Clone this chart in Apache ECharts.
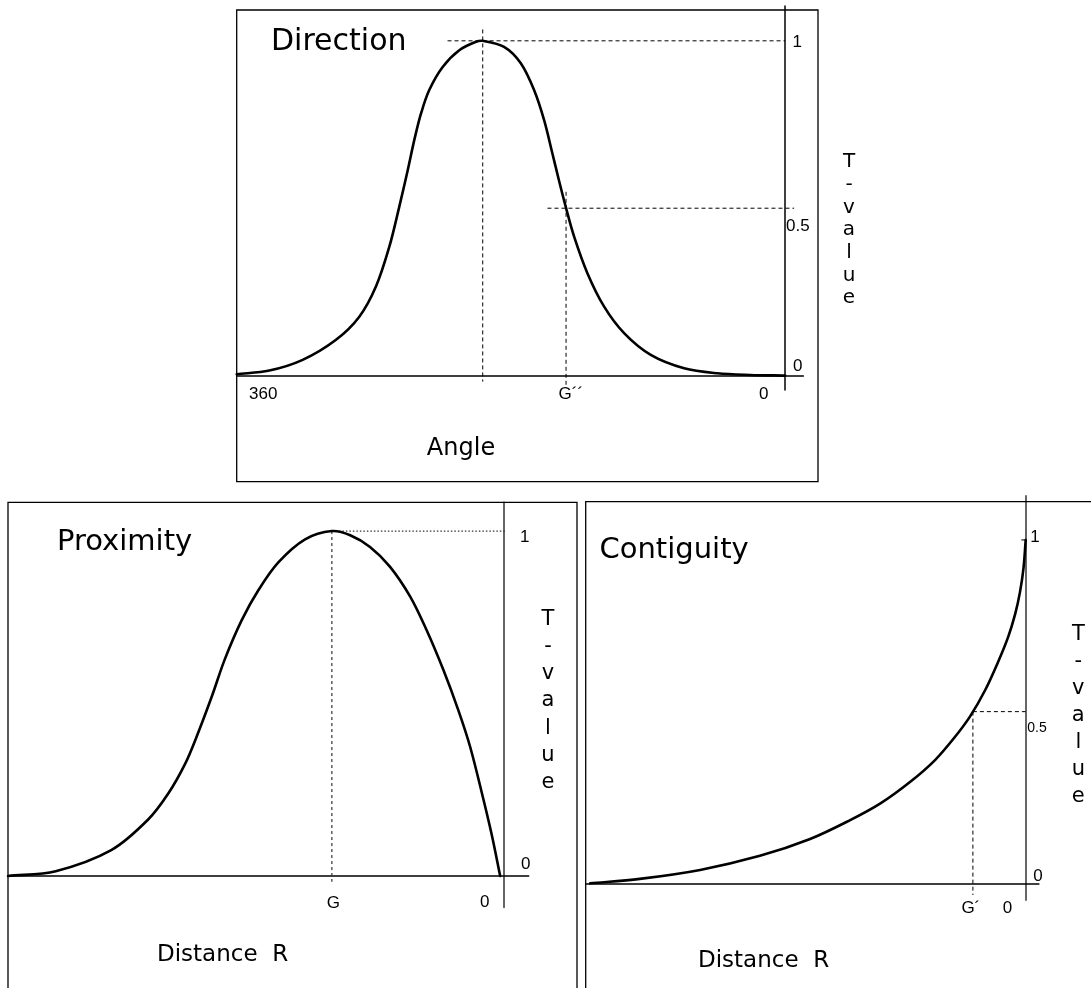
<!DOCTYPE html>
<html>
<head>
<meta charset="utf-8">
<script src="https://cdn.jsdelivr.net/npm/echarts@6/dist/echarts.min.js"></script>
<style>
  html, body { margin: 0; padding: 0; background: #fff; }
  #chart { width: 1091px; height: 988px; }
</style>
</head>
<body>
<div id="chart"></div>
<script>
// ---------- Direction: T-value against angle (axis runs 360 -> 0) ----------
const directionAngle = [360, 338.6, 316.7, 294.8, 279.5, 268.6, 259.8, 253.3, 247.7, 243.4, 239.0, 233.6,
  224.8, 213.9, 202.9, 198.5, 184.5, 173.5, 164.8, 158.2, 152.8, 148.4, 144.0, 138.5, 129.8, 118.8, 105.7,
  88.2, 66.3, 44.5, 23.0, 0];
const directionT = [0.004, 0.015, 0.047, 0.107, 0.176, 0.266, 0.385, 0.504, 0.614, 0.704, 0.783, 0.853,
  0.922, 0.972, 0.997, 1.0, 0.982, 0.933, 0.853, 0.763, 0.664, 0.582, 0.504, 0.415, 0.306, 0.206, 0.127,
  0.062, 0.022, 0.007, 0.002, 0];
const directionPeakAngle = 198.5;
const directionHalfAngle = 143.8;        // G´´
const directionXTickLabels = ['360', 'G\u00b4\u00b4', '0'];
const directionXTickValues = [360, 143.8, 0];
const directionYTickLabels = ['1', '0.5', '0'];
const directionYTickValues = [1, 0.5, 0];

// ---------- Proximity: T-value against distance R (axis runs 100 -> 0) ----------
const proximityR = [100, 90.4, 79.2, 71.8, 67.7, 64.3, 62.0, 58.9, 56.3, 52.9, 49.5, 45.5, 40.1,
  34.7, 31.0, 27.0, 23.0, 18.9, 15.6, 12.2, 9.2, 6.8, 4.2, 2.4, 0.75];
const proximityT = [0, 0.014, 0.075, 0.163, 0.239, 0.325, 0.403, 0.521, 0.628, 0.741, 0.829, 0.909, 0.976,
  1.0, 0.988, 0.954, 0.897, 0.810, 0.713, 0.597, 0.481, 0.374, 0.226, 0.116, 0];
const proximityPeakR = 34.7;             // G
const proximityXTickLabels = ['G', '0'];
const proximityXTickValues = [34.7, 0];
const proximityYTickLabels = ['1', '0'];
const proximityYTickValues = [1, 0];

// ---------- Contiguity: T-value against distance R (axis runs 100 -> 0) ----------
const contiguityR = [99.0, 87.7, 74.0, 60.4, 49.0, 39.9, 33.1, 26.3, 20.6, 16.1, 12.6, 9.2, 6.3, 4.0,
  2.4, 1.3, 0.5, 0];
const contiguityT = [0, 0.013, 0.039, 0.080, 0.129, 0.184, 0.232, 0.295, 0.359, 0.426, 0.487, 0.563,
  0.644, 0.717, 0.784, 0.848, 0.918, 1.0];
const contiguityHalfR = 12.0;            // G´
const contiguityXTickLabels = ['G\u00b4', '0'];
const contiguityXTickValues = [12.0, 0];
const contiguityYTickLabels = ['1', '0.5', '0'];
const contiguityYTickValues = [1, 0.5, 0];

// ---------- helpers ----------
const TITLE_FONT = '"DejaVu Sans", sans-serif';
const TICK_FONT = '"Liberation Sans", Arial, sans-serif';

function zip(xs, ys) { return xs.map((x, i) => [x, ys[i]]); }

// cubic Hermite spline through pixel points, tangents from chord-length central differences
function splinePath(p) {
  const n = p.length;
  const d = [];
  for (let i = 0; i < n - 1; i++) {
    d.push(Math.hypot(p[i + 1][0] - p[i][0], p[i + 1][1] - p[i][1]) || 1e-6);
  }
  const t = p.map((pt, i) => {
    if (i === 0) return [(p[1][0] - p[0][0]) / d[0], (p[1][1] - p[0][1]) / d[0]];
    if (i === n - 1) return [(p[n - 1][0] - p[n - 2][0]) / d[n - 2], (p[n - 1][1] - p[n - 2][1]) / d[n - 2]];
    const s = d[i - 1] + d[i];
    return [(p[i + 1][0] - p[i - 1][0]) / s, (p[i + 1][1] - p[i - 1][1]) / s];
  });
  let path = 'M' + p[0][0] + ' ' + p[0][1];
  for (let i = 0; i < n - 1; i++) {
    const h = d[i] / 3;
    path += ' C' + (p[i][0] + t[i][0] * h) + ' ' + (p[i][1] + t[i][1] * h) + ' ' +
      (p[i + 1][0] - t[i + 1][0] * h) + ' ' + (p[i + 1][1] - t[i + 1][1] * h) + ' ' +
      p[i + 1][0] + ' ' + p[i + 1][1];
  }
  return path;
}

function curve(g, xs, ys) {
  return {
    type: 'custom', xAxisIndex: g, yAxisIndex: g, silent: true, z: 4, clip: false,
    data: zip(xs, ys), encode: { x: 0, y: 1 },
    renderItem: function (params, api) {
      if (params.dataIndex !== 0) return null;
      const pts = xs.map((x, i) => api.coord([x, ys[i]]));
      return {
        type: 'path', shape: { pathData: splinePath(pts) },
        style: { fill: 'none', stroke: '#000', lineWidth: 2.6, lineCap: 'round', lineJoin: 'round' }
      };
    }
  };
}

function guide(g, pts, dash, color, width) {
  return {
    type: 'line', xAxisIndex: g, yAxisIndex: g, data: pts, symbol: 'none', silent: true, z: 3,
    lineStyle: { color: color || '#000', width: width || 1, type: dash }
  };
}

// text anchored at a data position; offsets (px) and alignment are layout only
function tickText(g, texts, points, layout) {
  return {
    type: 'scatter', xAxisIndex: g, yAxisIndex: g, symbolSize: 1, silent: true, z: 5,
    itemStyle: { color: 'rgba(0,0,0,0)' },
    data: texts.map((t, i) => ({
      value: points[i],
      label: {
        show: true, formatter: t, position: ['50%', '50%'], opacity: 1,
        align: layout[i].align, verticalAlign: 'middle', offset: layout[i].offset,
        color: '#000', fontFamily: TICK_FONT, fontSize: layout[i].size || 17
      }
    }))
  };
}

function axisPair(g, xMin, xMax, yMin, yMax, xColor, yColor, yWidth) {
  return {
    x: {
      type: 'value', gridIndex: g, inverse: true, min: xMin, max: xMax,
      axisLine: { onZero: true, lineStyle: { color: xColor, width: 1.5 } },
      axisTick: { show: false }, axisLabel: { show: false }, splitLine: { show: false }
    },
    y: {
      type: 'value', gridIndex: g, min: yMin, max: yMax,
      axisLine: { show: true, onZero: true, lineStyle: { color: yColor, width: yWidth } },
      axisTick: { show: false }, axisLabel: { show: false }, splitLine: { show: false }
    }
  };
}

const aDir = axisPair(0, -12, 360, -0.043, 1.104, '#000', '#000', 1.5);
const aPro = axisPair(1, -5, 100, -0.0907, 1.0833, '#000', '#555', 1.8);
const aCon = axisPair(2, -3, 100, -0.0486, 1.128, '#000', '#555', 1.8);

const series = [
  // Direction
  curve(0, directionAngle, directionT),
  guide(0, [[directionPeakAngle, 1.034], [directionPeakAngle, -0.018]], [4, 3]),
  guide(0, [[221.6, 1], [0, 1]], [4, 3]),
  guide(0, [[156, 0.5], [-5.9, 0.5]], [4, 3]),
  guide(0, [[directionHalfAngle, 0.549], [directionHalfAngle, -0.028]], [4, 3]),
  tickText(0, directionXTickLabels, directionXTickValues.map(v => [v, 0]), [
    { align: 'center', offset: [26.6, 18.3] },
    { align: 'left', offset: [-7.5, 18.3] },
    { align: 'center', offset: [-21.3, 18.3] }
  ]),
  tickText(0, directionYTickLabels, directionYTickValues.map(v => [0, v]), [
    { align: 'left', offset: [7.5, 1.8] },
    { align: 'left', offset: [1, 17.8] },
    { align: 'left', offset: [8, -9.7] }
  ]),

  // Proximity
  curve(1, proximityR, proximityT),
  guide(1, [[proximityPeakR, 1], [proximityPeakR, -0.0165]], [3, 3], '#333', 1.2),
  guide(1, [[proximityPeakR, 1], [-0.6, 1]], [1.5, 2], '#333', 1.2),
  tickText(1, proximityXTickLabels, proximityXTickValues.map(v => [v, 0]), [
    { align: 'center', offset: [1.6, 27] },
    { align: 'center', offset: [-19.2, 26] }
  ]),
  tickText(1, proximityYTickLabels, proximityYTickValues.map(v => [0, v]), [
    { align: 'left', offset: [16, 6.5] },
    { align: 'left', offset: [17, -12] }
  ]),

  // Contiguity
  curve(2, contiguityR, contiguityT),
  guide(2, [[contiguityHalfR, 0.5], [0, 0.5]], [4, 3]),
  guide(2, [[contiguityHalfR, 0.5], [contiguityHalfR, -0.034]], [4, 3]),
  guide(2, [[1, 1], [0, 1]], 'solid'),
  tickText(2, contiguityXTickLabels, contiguityXTickValues.map(v => [v, 0]), [
    { align: 'left', offset: [-11.5, 25] },
    { align: 'center', offset: [-18.2, 25] }
  ]),
  tickText(2, contiguityYTickLabels, contiguityYTickValues.map(v => [0, v]), [
    { align: 'left', offset: [4.5, -2.5] },
    { align: 'left', offset: [1.5, 16.6], size: 14 },
    { align: 'left', offset: [7.5, -6.6] }
  ])
];

function frame(x, y, w, h) {
  return { type: 'rect', silent: true, z: 1, shape: { x: x, y: y, width: w, height: h },
    style: { fill: 'none', stroke: '#000', lineWidth: 1.3 } };
}
function label(text, x, y, size, align) {
  return { type: 'text', silent: true, z: 10, x: x, y: y,
    style: { text: text, fill: '#000', fontFamily: TITLE_FONT, fontSize: size,
      align: align || 'left', verticalAlign: 'middle' } };
}
function stack(text, x, y, size, gap) {
  return { type: 'text', silent: true, z: 10, x: x, y: y,
    style: { text: text.split('').join('\n'), fill: '#000', fontFamily: TITLE_FONT, fontSize: size,
      lineHeight: gap, align: 'center', verticalAlign: 'middle' } };
}

const option = {
  animation: false,
  backgroundColor: '#fff',
  grid: [
    { left: 236.7, top: 6, width: 566.7, height: 384, outerBoundsMode: 'none' },
    { left: 8.1, top: 502.3, width: 520.6, height: 405, outerBoundsMode: 'none' },
    { left: 585.7, top: 496, width: 453.2, height: 404, outerBoundsMode: 'none' }
  ],
  xAxis: [aDir.x, aPro.x, aCon.x],
  yAxis: [aDir.y, aPro.y, aCon.y],
  series: series,
  graphic: [
    frame(236.7, 10, 581.3, 471.7),
    frame(8, 502.3, 569, 600),
    frame(585.7, 501.7, 600, 600),
    label('Direction', 271, 42.5, 30),
    label('Angle', 461, 449, 24, 'center'),
    stack('T-value', 849, 230, 20, 22.7),
    label('Proximity', 57, 542.7, 29),
    label('Distance  R', 157, 955, 23),
    stack('T-value', 548, 701, 21, 27.1),
    label('Contiguity', 599.5, 550, 29),
    label('Distance  R', 698, 961, 23),
    stack('T-value', 1078.3, 715.6, 21, 27.1)
  ]
};

const chart = echarts.init(document.getElementById('chart'), null, { renderer: 'canvas' });
chart.setOption(option);
</script>
</body>
</html>
